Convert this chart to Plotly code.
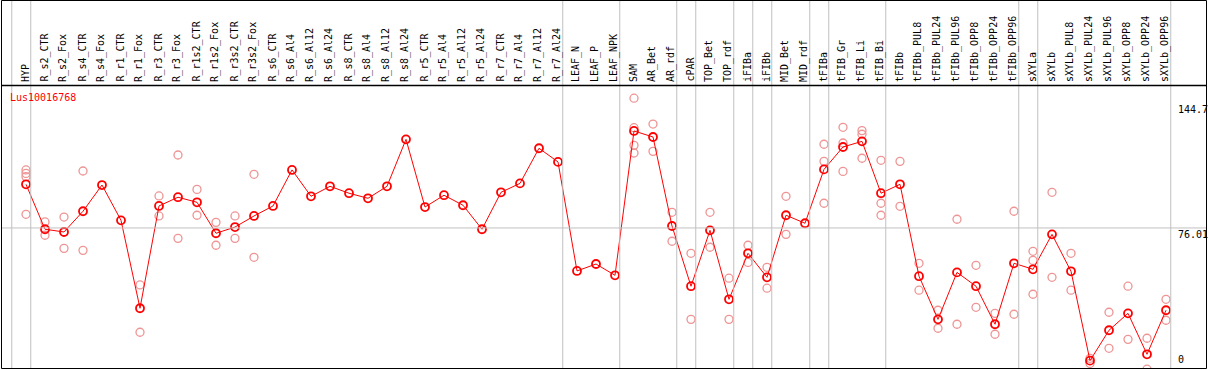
import plotly.graph_objects as go

categories = [
    "HYP", "R_s2_CTR", "R_s2_Fox", "R_s4_CTR", "R_s4_Fox", "R_r1_CTR", "R_r1_Fox",
    "R_r3_CTR", "R_r3_Fox", "R_r1s2_CTR", "R_r1s2_Fox", "R_r3s2_CTR", "R_r3s2_Fox",
    "R_s6_CTR", "R_s6_Al4", "R_s6_Al12", "R_s6_Al24", "R_s8_CTR", "R_s8_Al4",
    "R_s8_Al12", "R_s8_Al24", "R_r5_CTR", "R_r5_Al4", "R_r5_Al12", "R_r5_Al24",
    "R_r7_CTR", "R_r7_Al4", "R_r7_Al12", "R_r7_Al24", "LEAF_N", "LEAF_P", "LEAF_NPK",
    "SAM", "AR_Bet", "AR_rdf", "cPAR", "TOP_Bet", "TOP_rdf", "iFIBa", "iFIBb",
    "MID_Bet", "MID_rdf", "tFIBa", "tFIB_Gr", "tFIB_Li", "tFIB_Bi", "tFIBb",
    "tFIBb_PUL8", "tFIBb_PUL24", "tFIBb_PUL96", "tFIBb_OPP8", "tFIBb_OPP24",
    "tFIBb_OPP96", "sXYLa", "sXYLb", "sXYLb_PUL8", "sXYLb_PUL24", "sXYLb_PUL96",
    "sXYLb_OPP8", "sXYLb_OPP24", "sXYLb_OPP96",
]

means = [
    100.0, 75.3, 73.8, 85.2, 99.6, 80.2, 31.9, 88.1, 92.9, 90.1, 73.1, 76.5, 82.6,
    88.1, 107.9, 93.4, 98.9, 95.1, 92.3, 98.9, 124.7, 87.5, 94.0, 88.5, 75.3,
    95.6, 100.5, 119.8, 112.3, 52.4, 56.2, 50.0,
    129.3, 126.0, 77.1, 44.0, 74.7, 36.8, 62.1, 48.9, 83.0, 78.6,
    108.2, 120.5, 123.6, 95.1, 100.0,
    49.5, 25.8, 51.6, 44.0, 23.1, 56.6,
    53.3, 72.5, 52.2, 3.1, 19.8, 29.1, 6.6, 30.8,
]

replicates = [
    [107.9, 106.0, 104.2, 83.5], [79.3, 72.0], [82.0, 64.8], [107.3, 63.7], [], [],
    [44.7, 18.7], [93.6, 82.6], [116.1, 70.3], [97.2, 83.0], [79.1, 66.5],
    [82.6, 70.3], [105.5, 59.9],
    [], [], [], [], [], [], [], [], [], [], [], [], [], [], [], [],
    [], [], [],
    [147.3, 131.1, 121.4, 117.2], [133.1, 118.1], [84.6, 68.7], [62.1, 25.8],
    [84.6, 65.4], [48.4, 25.8], [66.5, 57.1], [54.4, 42.9], [93.4, 72.5], [],
    [122.0, 112.6, 89.6], [131.3, 122.7, 107.1], [129.5, 127.5, 114.3],
    [113.2, 89.6, 83.0], [112.6, 87.9],
    [56.6, 41.8], [30.8, 20.9], [80.8, 23.1], [55.5, 32.4], [29.1, 17.6], [85.2, 28.6],
    [63.2, 58.2, 39.6], [95.6, 48.9], [62.1, 41.8], [4.4, 1.6], [29.7, 9.9],
    [44.0, 14.8], [15.4, -1.6], [36.8, 25.3],
]

group_ends = [-1, 0, 28, 31, 34, 35, 37, 38, 39, 41, 42, 45, 52, 53, 60]
tick_values = [144.7, 76.01, 0]
tick_labels = ["144.7", "76.01", "0"]
gene = "Lus10016768"

FONT = "DejaVu Sans Mono"
W, H = 1209, 370
L, R, T, B = 2, 2, 85, 1
PW, PH = W - L - R, H - T - B

x_idx = list(range(len(categories)))
rx, ry = [], []
for i, reps in enumerate(replicates):
    for v in reps:
        rx.append(i)
        ry.append(v)

fig = go.Figure()
fig.add_trace(go.Scatter(
    x=rx, y=ry, mode="markers", hoverinfo="skip",
    marker=dict(symbol="circle-open", size=8, color="#EE9494", line=dict(width=1.3)),
))
fig.add_trace(go.Scatter(
    x=x_idx, y=means, mode="lines+markers",
    line=dict(color="#FF0000", width=1),
    marker=dict(symbol="circle-open", size=8, color="#FF0000", line=dict(width=1.8)),
))

def px_to_paper_x(px):
    return (px - L) / PW

def py_to_paper_y(py):
    return (H - B - py) / PH

shapes = []
shapes.append(dict(type="line", xref="paper", yref="y", x0=px_to_paper_x(1), x1=1,
                   y0=tick_values[1], y1=tick_values[1], line=dict(color="#C0C0C0", width=1)))
for g in group_ends:
    shapes.append(dict(type="line", xref="x", yref="paper", x0=g + 0.25, x1=g + 0.25,
                       y0=0, y1=py_to_paper_y(0), line=dict(color="#C0C0C0", width=1)))
shapes.append(dict(type="line", xref="paper", yref="paper", x0=px_to_paper_x(1), x1=1,
                   y0=py_to_paper_y(85.5), y1=py_to_paper_y(85.5), line=dict(color="black", width=1.5)))
shapes.append(dict(type="rect", xref="paper", yref="paper",
                   x0=px_to_paper_x(1.5), x1=px_to_paper_x(1206.5),
                   y0=py_to_paper_y(368.5), y1=py_to_paper_y(0.5),
                   line=dict(color="black", width=1)))

annotations = []
for i, c in enumerate(categories):
    annotations.append(dict(x=i - 0.05, xref="x", y=py_to_paper_y(83), yref="paper",
                            text=c, textangle=-90, showarrow=False,
                            xanchor="center", yanchor="bottom", borderpad=0,
                            font=dict(family=FONT, size=10, color="black")))
for v, t in zip(tick_values, tick_labels):
    annotations.append(dict(x=px_to_paper_x(1177), xref="paper", y=v, yref="y",
                            text=t, showarrow=False, xanchor="left",
                            yanchor="bottom" if v == 0 else "top", borderpad=0,
                            font=dict(family=FONT, size=10, color="black")))
annotations.append(dict(x=px_to_paper_x(9), xref="paper", y=py_to_paper_y(91), yref="paper",
                        text=gene, showarrow=False, xanchor="left", yanchor="top", borderpad=0,
                        font=dict(family=FONT, size=10, color="#FF0000")))

fig.update_layout(
    width=W, height=H,
    margin=dict(l=L, r=R, t=T, b=B, pad=0),
    paper_bgcolor="white", plot_bgcolor="white",
    showlegend=False,
    xaxis=dict(range=[(L - 26) / 19, (W - R - 26) / 19], showgrid=False, zeroline=False,
               showticklabels=False, ticks="", showline=False, fixedrange=True),
    yaxis=dict(range=[(366.3 - (H - B)) / 1.82, (366.3 - T) / 1.82], showgrid=False,
               zeroline=False, showticklabels=False, ticks="", showline=False, fixedrange=True),
    shapes=shapes,
    annotations=annotations,
)

fig.write_html("out.html", config={"displayModeBar": False},
               post_script="document.body.style.margin='0px';document.body.style.overflow='hidden';")
